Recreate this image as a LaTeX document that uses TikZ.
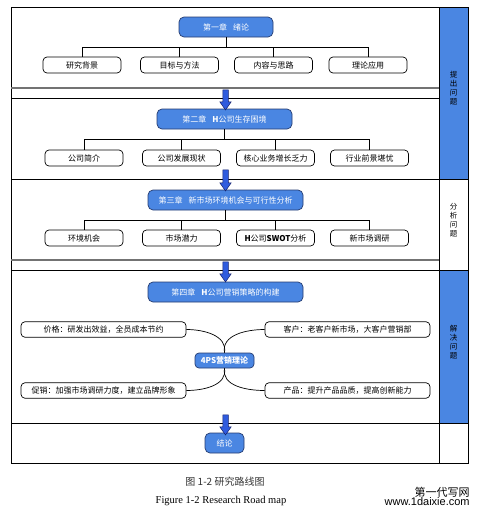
\documentclass[tikz,border=0pt]{standalone}
\usepackage{fontspec}
\setmainfont{Liberation Serif}
\setsansfont{Liberation Sans}
\newfontfamily\cjk{Noto Sans CJK SC}
\usetikzlibrary{shapes.arrows}
\definecolor{chapblue}{RGB}{74,134,226}
\definecolor{chapline}{RGB}{38,60,112}
\definecolor{arrowblue}{RGB}{48,92,222}
\definecolor{arrowline}{RGB}{22,34,110}
\tikzset{
  chapter/.style={draw=chapline, fill=chapblue, rounded corners=5pt, text=white,
    minimum height=20pt, inner sep=1pt, font=\cjk\fontsize{8}{9}\selectfont},
  topic/.style={draw, rounded corners=4pt, minimum width=78pt, minimum height=16pt,
    inner sep=1pt, font=\cjk\fontsize{8}{9}\selectfont},
  measure/.style={topic, minimum width=165pt, minimum height=15.5pt},
  stage/.style={align=center, font=\cjk\fontsize{7.5}{9}\selectfont},
  downarrow/.style={single arrow, draw=arrowline, fill=arrowblue, line width=0.5pt,
    shape border rotate=270, minimum height=20pt, inner sep=2.5pt,
    single arrow head extend=3pt, single arrow tip angle=70},
}
\begin{document}
\begin{tikzpicture}[x=1pt, y=1pt, line width=0.7pt]
        \useasboundingbox (0,0) rectangle (481,-522);
        % frame and stage column
        \fill[chapblue] (439,-7) rectangle (468,-179);
        \fill[chapblue] (439,-270) rectangle (468,-423);
        \draw (11,-7) rectangle (468,-463);
        \draw (439,-7) -- (439,-463);
        \draw[black!55, line width=1.2pt] (11,-88) -- (439,-88);
        \draw (11,-98) -- (439,-98);
        \draw (11,-179) -- (468,-179);
        \draw[black!55, line width=1.2pt] (11,-260) -- (439,-260);
        \draw (11,-270) -- (468,-270);
        \draw (11,-423) -- (468,-423);
        \node[stage] (s1) at (453.5,-88) {提\\出\\问\\题};
        \node[stage] (s2) at (453.5,-220) {分\\析\\问\\题};
        \node[stage] (s3) at (453.5,-342) {解\\决\\问\\题};
        % chapter 1
        \node[chapter, minimum width=94pt] (ch1) at (226,-27) {第一章\hspace{6pt}绪论};
        \node[topic] (t11) at ( 82,  -65) {研究背景};
        \node[topic] (t12) at (179.5,-65) {目标与方法};
        \node[topic] (t13) at (273.5,-65) {内容与思路};
        \node[topic] (t14) at (368,  -65) {理论应用};
        \foreach \t in {t11,t12,t13,t14}
            \draw (ch1.south) -- ++(0,-10) -| (\t.north);
        % chapter 2
        \node[chapter, minimum width=135pt] (ch2) at (224.5,-119) {第二章\hspace{6pt}\textbf{H}公司生存困境};
        \node[topic] (t21) at ( 84,  -158) {公司简介};
        \node[topic] (t22) at (181.5,-158) {公司发展现状};
        \node[topic] (t23) at (275.5,-158) {核心业务增长乏力};
        \node[topic] (t24) at (369.5,-158) {行业前景堪忧};
        \foreach \t in {t21,t22,t23,t24}
            \draw (ch2.south) -- ++(0,-10) -| (\t.north);
        % chapter 3
        \node[chapter, minimum width=155pt] (ch3) at (225.5,-200) {第三章\hspace{6pt}新市场环境机会与可行性分析};
        \node[topic] (t31) at ( 84,  -238) {环境机会};
        \node[topic] (t32) at (181.5,-238) {市场潜力};
        \node[topic] (t33) at (275.5,-238) {\textbf{H}公司\textbf{SWOT}分析};
        \node[topic] (t34) at (369.5,-238) {新市场调研};
        \foreach \t in {t31,t32,t33,t34}
            \draw (ch3.south) -- ++(0,-10) -| (\t.north);
        % chapter 4
        \node[chapter, minimum width=155pt] (ch4) at (225.5,-292) {第四章\hspace{6pt}\textbf{H}公司营销策略的构建};
        \node[chapter, minimum width=59pt, minimum height=15pt, rounded corners=4pt,
              font=\cjk\bfseries\fontsize{8}{9}\selectfont] (ps) at (224.5,-360.5) {4PS营销理论};
        \node[measure] (price) at (103.5,-329.5) {价格：研发出效益，全员成本节约};
        \node[measure] (client) at (347.5,-329.5) {客户：老客户新市场，大客户营销部};
        \node[measure] (promo) at (103.5,-390.5) {促销：加强市场调研力度，建立品牌形象};
        \node[measure] (product) at (347.5,-390.5) {产品：提升产品品质，提高创新能力};
        \draw (price.east) to[out=0, in=80] (ps.north);
        \draw (client.west) to[out=180, in=100] (ps.north);
        \draw (ps.south) to[out=-80, in=0] (promo.east);
        \draw (ps.south) to[out=-100, in=180] (product.west);
        % conclusion
        \node[chapter, minimum width=39pt] (end) at (224.5,-443) {结论};
        % arrows between chapters
        \node[downarrow] (a1) at (225.5,-98) {};
        \node[downarrow, minimum height=21pt] (a2) at (225.5,-178.5) {};
        \node[downarrow] (a3) at (225.5,-270) {};
        \node[downarrow] (a4) at (225.5,-423) {};
        % caption
        \node[font=\cjk\fontsize{10}{12}\selectfont, text=black!80] (cap1) at (225,-482) {图 1-2 研究路线图};
        \node[font=\fontsize{10.5}{12}\selectfont] (cap2) at (221,-501) {Figure 1-2 Research Road map};
        \node[font=\cjk\fontsize{11}{12}\selectfont, anchor=east, inner sep=0pt] (mark1) at (470,-492) {第一代写网};
        \node[font=\sffamily\fontsize{11}{12}\selectfont, anchor=east, inner sep=0pt] (mark2) at (470,-501.5) {www.1daixie.com};
\end{tikzpicture}
\end{document}
